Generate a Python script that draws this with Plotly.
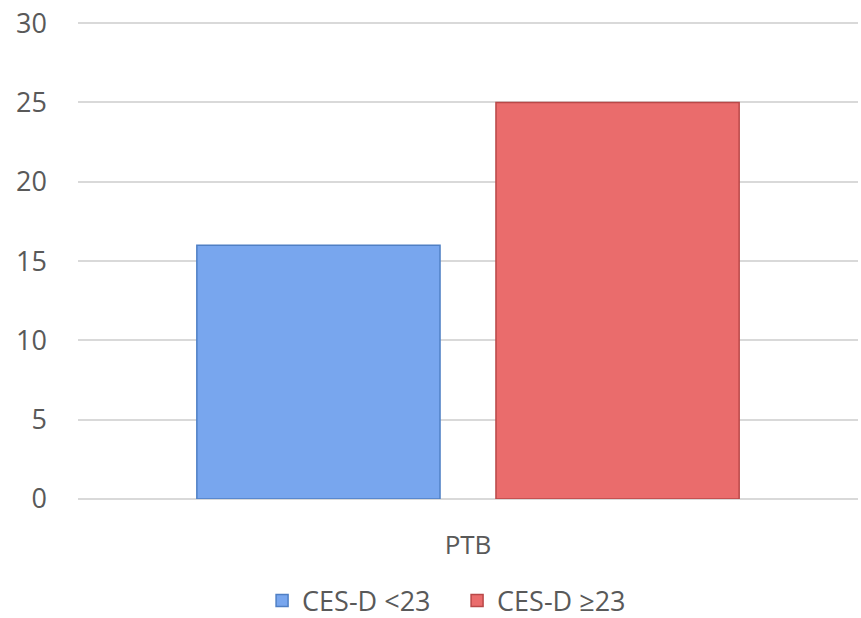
import plotly.graph_objects as go

categories = ["PTB"]
series_names = ["CES-D <23", "CES-D ≥23"]
low_values = [16]
high_values = [25]
y_ticks = [0, 5, 10, 15, 20, 25, 30]

fig = go.Figure()
fig.add_trace(go.Bar(
    x=categories, y=low_values, name=series_names[0],
    marker=dict(color="#78a6ee", line=dict(color="#4f7fc4", width=1.5)),
))
fig.add_trace(go.Bar(
    x=categories, y=high_values, name=series_names[1],
    marker=dict(color="#ea6c6c", line=dict(color="#b94848", width=1.5)),
))

font = "'Open Sans', sans-serif"
fig.update_layout(
    width=861, height=618,
    margin=dict(l=78, r=3, t=20, b=119, autoexpand=False),
    paper_bgcolor="white", plot_bgcolor="white",
    barmode="group", bargap=0.233, bargroupgap=0.187,
    font=dict(family=font, size=26, color="#595959"),
    showlegend=True,
    legend=dict(orientation="h", x=0.486, xanchor="center", y=-0.213, yanchor="middle",
                font=dict(family=font, size=27, color="#595959"), traceorder="normal",
                itemwidth=30, entrywidth=150, entrywidthmode="pixels"),
    xaxis=dict(showgrid=False, showline=False, ticks="", automargin=False,
               tickfont=dict(family=font, size=26, color="#595959")),
    yaxis=dict(range=[0, 30.2], tickvals=y_ticks, showgrid=True, gridcolor="#d9d9d9", gridwidth=1.5,
               zeroline=True, zerolinecolor="#d9d9d9", zerolinewidth=1.5, showline=False,
               ticks="", ticklen=0, automargin=False, ticklabeloverflow="allow",
               tickfont=dict(family=font, size=27, color="#595959")),
)
fig.update_yaxes(ticklabelstandoff=30)
fig.update_xaxes(ticklabelstandoff=28)

fig.write_html("out.html", config={"displayModeBar": False},
               post_script="document.body.style.margin='0';")
